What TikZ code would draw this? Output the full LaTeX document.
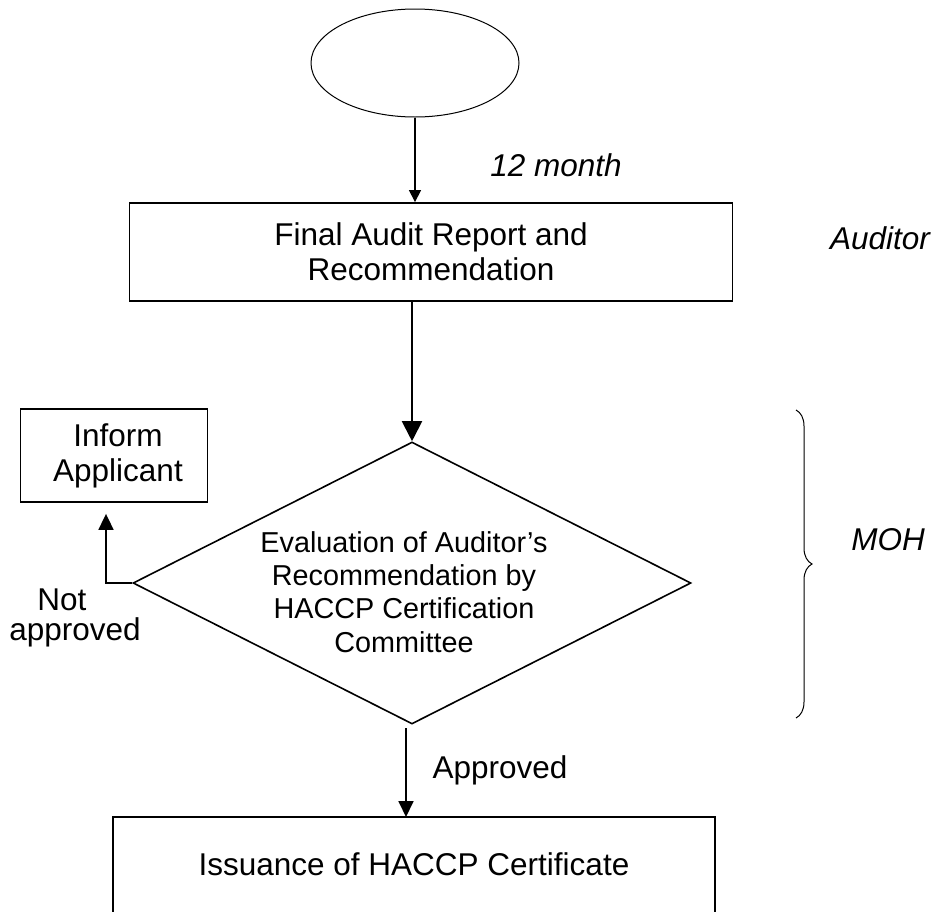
\documentclass[tikz,border=0pt]{standalone}
\usepackage{fontspec}
\setmainfont{Liberation Sans}
\usetikzlibrary{shapes.geometric,arrows.meta,decorations.pathreplacing}

\begin{document}
\begin{tikzpicture}[x=1pt,y=-1pt,
  bigfont/.style={font=\fontsize{31.5}{35}\selectfont},
  boxstyle/.style={draw, line width=1.8pt, rectangle, inner sep=0pt, align=center, bigfont},
  txt/.style={inner sep=0pt, align=center, bigfont},
  itxt/.style={inner sep=0pt, align=center, font=\fontsize{31.5}{35}\selectfont\itshape},
  thinarrow/.style={-{Triangle[width=12pt,length=12pt]}, line width=1.2pt},
  thickarrow/.style={-{Triangle[width=20pt,length=20pt]}, line width=2pt},
  midarrow/.style={-{Triangle[width=15pt,length=16pt]}, line width=1.8pt}
]
\useasboundingbox[fill=white] (0,0) rectangle (940,911);

% start ellipse
\node[ellipse, draw, line width=1pt, minimum width=208pt, minimum height=108pt, inner sep=0pt] (start) at (415,63) {};

% final audit box
\node[boxstyle, minimum width=603pt, minimum height=98pt] (audit) at (431,252) {Final Audit Report and\\Recommendation};

\draw[thinarrow] (start.south) -- (start.south |- audit.north);
\node[itxt] (month) at (556,165) {12 month};
\node[itxt] (auditor) at (880,238) {Auditor};

% evaluation diamond
\node[diamond, draw, line width=1.6pt, minimum width=558pt, minimum height=282pt, inner sep=0pt] (eval) at (412,583) {};
\node[inner sep=0pt, align=center, font=\fontsize{28.8}{33.3}\selectfont] (evaltext) at (404,592)
  {Evaluation of Auditor’s\\Recommendation by\\HACCP Certification\\Committee};

\draw[thickarrow] (eval.north |- audit.south) -- (eval.north);

% inform applicant
\node[boxstyle, minimum width=187pt, minimum height=93pt] (inform) at (114,455.5) {\hspace*{8pt}Inform\\\hspace*{8pt}Applicant};
\coordinate (bend) at (106,583);
\draw[midarrow, shorten >=11pt] (eval.west) -- (bend) -- (bend |- inform.south);
\node[txt] (notlbl) at (62,600) {Not};
\node[txt] (approvedlbl) at (75,632) {approved};

% brace and MOH
\coordinate (bracetop) at (796,410);
\coordinate (bracebot) at (796,718);
\draw[line width=1pt, decorate, decoration={brace, amplitude=16pt}] (bracetop) -- (bracebot);
\node[itxt] (moh) at (888,540) {MOH};

% issuance box (open at the bottom edge)
\coordinate (issueTL) at (113,817);
\coordinate (issueTR) at (715,817);
\draw[line width=1.8pt] (113,912) -- (issueTL) -- (issueTR) -- (715,912);
\node[txt] (issue) at (414,864) {Issuance of HACCP Certificate};

\coordinate (apptop) at (406,728);
\draw[midarrow] (apptop) -- (apptop |- issueTL);
\node[txt] (applbl) at (500,770) {Approved};

\end{tikzpicture}
\end{document}
